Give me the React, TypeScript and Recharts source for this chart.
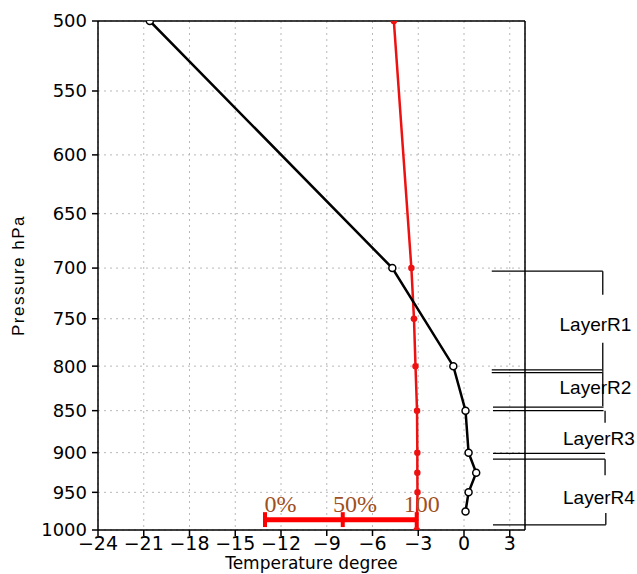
import { ComposedChart, Line, XAxis, YAxis, CartesianGrid, ReferenceLine, ReferenceDot, Label } from 'recharts';

// axis ticks
const pressureTicks = [500, 550, 600, 650, 700, 750, 800, 850, 900, 950, 1000];
const tempTicks = [-24, -21, -18, -15, -12, -9, -6, -3, 0, 3];

// black profile (with open circle markers)
const blackLevels = [500, 700, 800, 850, 900, 925, 950, 975];
const blackTemps = [-20.6, -4.7, -0.7, 0.1, 0.3, 0.8, 0.3, 0.1];

// red profile
const redLevels = [500, 700, 750, 800, 850, 900, 925, 950, 1000];
const redTemps = [-4.6, -3.45, -3.28, -3.18, -3.08, -3.06, -3.06, -3.05, -3.1];

// layer brackets on the right: horizontal rules [pressure, xFrom, xTo]
const bracketRules = [
  [703, 1.82, 9.1],
  [804, 1.82, 9.05],
  [807, 1.82, 9.05],
  [846, 1.9, 9.15],
  [850, 1.9, 9.15],
  [901, 1.9, 9.25],
  [908, 1.9, 9.25],
  [993, 1.9, 9.3],
];
// vertical pieces [x, pTop, pBottom]
const bracketStems = [
  [9.1, 703, 726],
  [9.1, 775, 806],
  [9.1, 806, 845],
  [9.25, 850, 864],
  [9.25, 908, 928],
  [9.3, 977, 993],
];
const layerNames = ['LayerR1', 'LayerR2', 'LayerR3', 'LayerR4'];
const layerLabelX = [8.62, 8.62, 8.85, 8.85];
const layerLabelP = [756, 823, 882, 957];

// percentage scale bar
const barTemps = [-13.05, -7.95, -3.1];
const barLabels = ['0%', '50%', '100'];
const barLabelTemps = [-12.03, -7.15, -2.77];

const blackData = blackLevels.map((p, i) => ({ p, t: blackTemps[i] }));
const redData = redLevels.map((p, i) => ({ p, t: redTemps[i] }));

const fmtTemp = (v: number) => (v < 0 ? `\u2212${Math.abs(v)}` : `${v}`);

export default function App() {
  return (
    <div style={{ position: 'absolute', left: 0, top: 0, width: 637, height: 574, background: '#fff' }}>
      <ComposedChart width={637} height={574} margin={{ top: 21, right: 112, bottom: 0, left: 0 }}>
        <CartesianGrid stroke="#b8b8b8" strokeDasharray="2 4" />
        <XAxis
          type="number"
          dataKey="t"
          domain={[-24, 4]}
          ticks={tempTicks}
          allowDataOverflow
          height={44}
          tickFormatter={fmtTemp}
          tickSize={6}
          tickMargin={1}
          stroke="#000"
          strokeWidth={1.5}
          tick={{ fill: '#000', fontSize: 19, fontFamily: 'DejaVu Sans' }}
        >
          <Label
            value="Temperature degree"
            position="insideBottom"
            offset={5}
            fill="#000"
            fontSize={17}
            fontFamily="DejaVu Sans"
          />
        </XAxis>
        <YAxis
          type="number"
          dataKey="p"
          scale="log"
          domain={[500, 1000]}
          ticks={pressureTicks}
          allowDataOverflow
          reversed
          width={98}
          tickSize={6}
          tickMargin={5}
          stroke="#000"
          strokeWidth={1.5}
          tick={{ fill: '#000', fontSize: 18, fontFamily: 'DejaVu Sans' }}
        >
          <Label
            value="Pressure hPa"
            position="center"
            angle={-90}
            dx={-31}
            fill="#000"
            fontSize={17}
            letterSpacing={1.5}
            fontFamily="Liberation Sans"
          />
        </YAxis>

        {/* frame top / right */}
        <ReferenceLine y={500} stroke="#000" strokeWidth={1.5} ifOverflow="visible" />
        <ReferenceLine x={4} stroke="#000" strokeWidth={1.5} ifOverflow="visible" />

        <Line
          data={redData}
          dataKey="p"
          stroke="#ee1111"
          strokeWidth={2.5}
          dot={{ r: 2, fill: '#ee1111', stroke: '#ee1111' }}
          isAnimationActive={false}
        />
        <Line
          data={blackData}
          dataKey="p"
          stroke="#000"
          strokeWidth={2.5}
          dot={{ r: 3.5, fill: '#fff', stroke: '#000', strokeWidth: 1.5 }}
          isAnimationActive={false}
        />

        {/* percentage bar */}
        <ReferenceLine
          segment={[{ x: barTemps[0], y: 986 }, { x: barTemps[2], y: 986 }]}
          stroke="#ff0000"
          strokeWidth={5}
          ifOverflow="visible"
        />
        {barTemps.map((t) => (
          <ReferenceLine
            key={t}
            segment={[{ x: t, y: 976 }, { x: t, y: 996 }]}
            stroke="#ff0000"
            strokeWidth={4}
            ifOverflow="visible"
          />
        ))}
        {barLabels.map((s, i) => (
          <ReferenceDot
            key={s}
            x={barLabelTemps[i]}
            y={964}
            r={0}
            stroke="none"
            ifOverflow="visible"
            label={{ value: s, position: 'center', fill: '#a0501e', fontSize: 24, fontFamily: 'Liberation Serif' }}
          />
        ))}

        {/* layer brackets */}
        {bracketRules.map(([p, x1, x2]) => (
          <ReferenceLine
            key={`r${p}`}
            segment={[{ x: x1, y: p }, { x: x2, y: p }]}
            stroke="#000"
            strokeWidth={1.3}
            ifOverflow="visible"
          />
        ))}
        {bracketStems.map(([x, p1, p2]) => (
          <ReferenceLine
            key={`s${p1}`}
            segment={[{ x, y: p1 }, { x, y: p2 }]}
            stroke="#000"
            strokeWidth={1.3}
            ifOverflow="visible"
          />
        ))}
        {layerNames.map((s, i) => (
          <ReferenceDot
            key={s}
            x={layerLabelX[i]}
            y={layerLabelP[i]}
            r={0}
            stroke="none"
            ifOverflow="visible"
            label={{ value: s, position: 'center', fill: '#000', fontSize: 19, fontFamily: 'Liberation Sans' }}
          />
        ))}
      </ComposedChart>
    </div>
  );
}
